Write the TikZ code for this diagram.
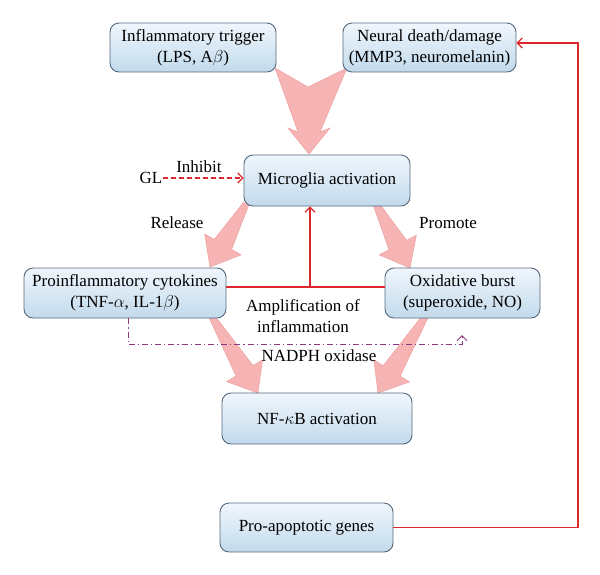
\documentclass[tikz,border=0pt]{standalone}
\usepackage{fontspec}
\setmainfont{Liberation Serif}
\usetikzlibrary{calc,arrows.meta}
\pgfdeclarelayer{background}
\pgfsetlayers{background,main}
\definecolor{boxline}{RGB}{85,105,125}
\definecolor{boxtop}{RGB}{240,246,252}
\definecolor{boxbot}{RGB}{194,218,236}
\definecolor{redline}{RGB}{220,40,45}
\definecolor{purp}{RGB}{140,55,130}
\definecolor{pinkfill}{RGB}{246,180,180}
\definecolor{pinkdraw}{RGB}{238,160,160}
\tikzset{
  box/.style={draw=boxline, line width=0.9pt, rounded corners=9pt, top color=boxtop, bottom color=boxbot, align=center, inner sep=0pt, font=\fontsize{17}{21}\selectfont},
  lbl/.style={font=\fontsize{17}{21}\selectfont, inner sep=0pt, align=center},
  pinkarrow/.style={fill=pinkfill, draw=pinkdraw, line width=0.5pt, line join=miter},
  redarrow/.style={draw=redline, line width=1.2pt},
  purpline/.style={draw=purp, line width=0.9pt, dash pattern=on 6pt off 3pt on 1.2pt off 3pt},
  barb/.style={-{Straight Barb[length=5pt,width=10pt]}},
}
% S, T, half start width, half shaft width, half head width, head length
\newcommand{\taperarrow}[6]{%
  \coordinate (tmpH) at ($(#2)!#6!(#1)$);
  \path[pinkarrow] ($(#1)!#3!90:(#2)$) -- ($(tmpH)!#4!90:(#2)$) -- ($(tmpH)!#5!90:(#2)$) -- (#2)
     -- ($(tmpH)!#5!-90:(#2)$) -- ($(tmpH)!#4!-90:(#2)$) -- ($(#1)!#3!-90:(#2)$) -- cycle;}
\begin{document}
\begin{tikzpicture}[x=1pt,y=-1pt]
\useasboundingbox (0,0) rectangle (600,574);
% boxes
\node[box, minimum width=166pt, minimum height=49pt] (trig) at (193,47.5) {Inflammatory trigger\\(LPS, A$\beta$)};
\node[box, minimum width=173pt, minimum height=49pt] (neur) at (429.5,47.5) {Neural death/damage\\(MMP3, neuromelanin)};
\node[box, minimum width=166pt, minimum height=51pt] (micro) at (327,180.5) {Microglia activation};
\node[box, minimum width=202pt, minimum height=50pt] (pro) at (125,293) {Proinflammatory cytokines\\(TNF-$\alpha$, IL-1$\beta$)};
\node[box, minimum width=155pt, minimum height=50pt] (oxi) at (462.5,293) {Oxidative burst\\(superoxide, NO)};
\node[box, minimum width=190pt, minimum height=51pt] (nfkb) at (317,418.5) {NF-$\kappa$B activation};
\node[box, minimum width=173pt, minimum height=49pt] (apop) at (306.5,527.5) {Pro-apoptotic genes};
% labels
\node[lbl] (gl) at (151,178) {GL};
\node[lbl] (inh) at (199,167) {Inhibit};
\node[lbl] (rel) at (177,223) {Release};
\node[lbl] (prom) at (448,223) {Promote};
\node[lbl] (amp) at (303,316) {Amplification of\\inflammation};
\node[lbl] (nadph) at (319,356) {NADPH oxidase};
% pink arrows
\begin{pgfonlayer}{background}
\path[pinkarrow] (275,68) -- (308,87) -- (347,68) -- (320,132) -- (330,128) -- (309,154) -- (288,128) -- (298,132) -- cycle;
\coordinate (relS) at (246,204);
\coordinate (relT) at (210,267);
\coordinate (proS) at (376,204);
\coordinate (proT) at (410,268);
\coordinate (blS) at (212,317);
\coordinate (blT) at (258,393);
\coordinate (brS) at (425,317);
\coordinate (brT) at (378,393);
\taperarrow{relS}{relT}{3pt}{10pt}{21pt}{26pt}
\taperarrow{proS}{proT}{3pt}{10pt}{21pt}{26pt}
\taperarrow{blS}{blT}{3pt}{10pt}{21pt}{26pt}
\taperarrow{brS}{brT}{3pt}{10pt}{21pt}{26pt}
\end{pgfonlayer}
% GL inhibit
\draw[redarrow, dash pattern=on 5pt off 3pt, barb] (gl.east) -- (gl.east -| micro.west);
% amplification
\coordinate (ampL) at ($(pro.east)+(0,-6)$);
\coordinate (ampR) at ($(oxi.west)+(0,-6)$);
\coordinate (ampM) at (310,287);
\draw[redarrow] (ampL) -- (ampR);
\draw[redarrow, barb] (ampM) -- (ampM |- micro.south);
% feedback
\coordinate (fbB) at (578,527.5);
\coordinate (fbT) at (578,43);
\draw[redarrow, barb] (apop.east) -- (fbB) -- (fbT) -- (fbT -| neur.east);
% NADPH oxidase
\coordinate (pA) at (128,344);
\coordinate (pB) at (462,344);
\coordinate (pC) at (462,335);
\draw[purpline] (pA |- pro.south) -- (pA) -- (pB) -- (pC);
\draw[draw=purp, line width=0.9pt, barb] (462,338) -- (pC);
\end{tikzpicture}
\end{document}
